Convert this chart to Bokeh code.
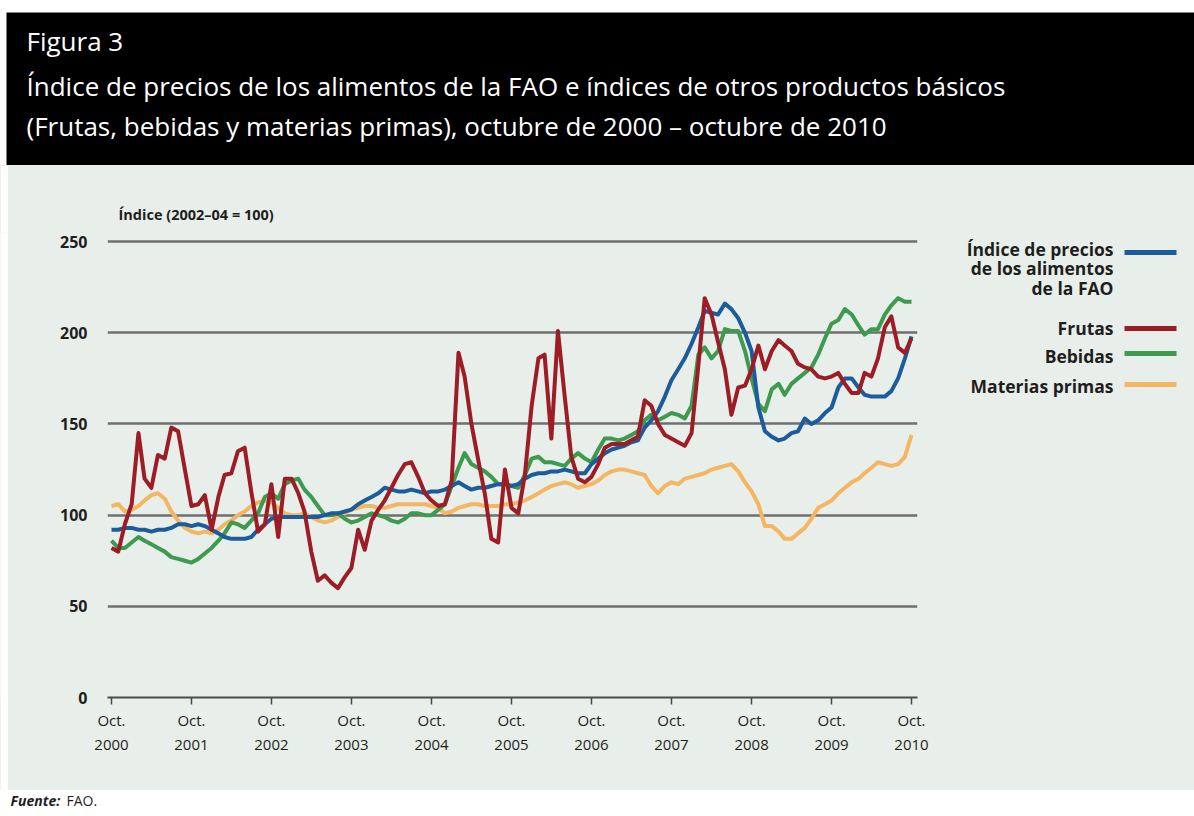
import pandas as pd
from bokeh.plotting import figure
from bokeh.models import Range1d, FixedTicker, DatetimeTickFormatter, Label, BoxAnnotation
from bokeh.layouts import column, row
from bokeh.embed import file_html
from bokeh.resources import INLINE

# ---------------- data ----------------
months = pd.date_range("2000-10-01", "2010-10-01", freq="MS")
tick_dates = pd.date_range("2000-10-01", "2010-10-01", freq="12MS")
y_ticks = [0, 50, 100, 150, 200, 250]

fao_food = [92, 92, 93, 93, 92, 92, 91, 92, 92, 93,
            95, 95, 94, 95, 94, 92, 90, 88, 87, 87,
            87, 88, 92, 95, 98, 99, 99, 99, 99, 99,
            99, 99, 100, 101, 101, 102, 103, 106, 108, 110,
            112, 115, 114, 113, 113, 114, 113, 112, 113, 113,
            114, 116, 118, 116, 114, 115, 115, 116, 117, 117,
            116, 117, 120, 122, 123, 123, 124, 124, 125, 124,
            123, 123, 128, 131, 134, 136, 137, 138, 140, 141,
            148, 152, 157, 165, 174, 180, 186, 194, 203, 212,
            211, 210, 216, 213, 208, 200, 190, 159, 146, 143,
            141, 142, 145, 146, 153, 150, 152, 156, 159, 170,
            175, 175, 170, 166, 165, 165, 165, 168, 175, 186, 198]

frutas = [82, 80, 95, 106, 145, 120, 115, 133, 131, 148,
          146, 125, 105, 106, 111, 92, 110, 122, 123, 135,
          137, 113, 91, 95, 117, 88, 120, 120, 112, 102,
          80, 64, 67, 63, 60, 66, 71, 92, 81, 97,
          103, 108, 115, 122, 128, 129, 121, 112, 108, 105,
          106, 119, 189, 176, 150, 131, 112, 87, 85, 125,
          104, 101, 122, 160, 186, 188, 142, 201, 165, 132,
          120, 118, 121, 128, 137, 139, 139, 139, 141, 143,
          163, 160, 150, 144, 142, 140, 138, 145, 182, 219,
          210, 195, 180, 155, 170, 171, 180, 193, 180, 190,
          196, 193, 190, 183, 181, 180, 176, 175, 176, 178,
          172, 167, 167, 178, 176, 186, 203, 209, 192, 189, 197]

bebidas = [86, 82, 82, 85, 88, 86, 84, 82, 80, 77,
           76, 75, 74, 76, 79, 82, 86, 90, 96, 95,
           93, 97, 101, 110, 112, 109, 117, 119, 120, 114,
           110, 105, 100, 100, 101, 98, 96, 97, 99, 101,
           100, 99, 97, 96, 98, 101, 101, 100, 100, 103,
           106, 116, 126, 134, 128, 126, 124, 121, 117, 117,
           116, 115, 122, 131, 132, 129, 129, 128, 127, 131,
           134, 131, 129, 136, 142, 142, 141, 142, 144, 146,
           152, 155, 152, 154, 156, 155, 153, 160, 188, 192,
           186, 190, 202, 201, 201, 190, 175, 161, 157, 169,
           172, 166, 172, 175, 178, 181, 188, 197, 205, 207,
           213, 210, 204, 199, 202, 202, 210, 215, 219, 217, 217]

materias = [105, 106, 102, 103, 105, 108, 111, 112, 109, 102,
            97, 93, 91, 90, 91, 90, 92, 95, 97, 100,
            102, 105, 107, 108, 107, 104, 101, 100, 100, 101,
            99, 97, 96, 97, 99, 101, 103, 104, 105, 105,
            104, 104, 105, 106, 106, 106, 106, 106, 105, 104,
            101, 102, 104, 105, 106, 106, 105, 105, 105, 106,
            106, 107, 108, 110, 112, 114, 116, 117, 118, 117,
            115, 116, 117, 119, 122, 124, 125, 125, 124, 123,
            122, 116, 112, 116, 118, 117, 120, 121, 122, 123,
            125, 126, 127, 128, 124, 118, 113, 106, 94, 94,
            91, 87, 87, 90, 93, 98, 104, 106, 108, 112,
            115, 118, 120, 123, 126, 129, 128, 127, 128, 132, 144]

for s in (fao_food, frutas, bebidas, materias):
    assert len(s) == len(months)

series_names = ["Índice de precios\nde los alimentos\nde la FAO", "Frutas", "Bebidas", "Materias primas"]
series_values = [fao_food, frutas, bebidas, materias]
series_colors = ["#1d5c9a", "#9c1d26", "#3d9a4f", "#f5b663"]

# ---------------- styles ----------------
PANEL = "#e8eee9"
FONT = "Open Sans"
TXT = "#1e1e1e"

# ---------------- title block ----------------
t = figure(width=1194, height=165, x_range=Range1d(0, 1194), y_range=Range1d(165, 0),
           x_axis_location=None, y_axis_location=None, toolbar_location=None,
           output_backend="svg", min_border=0,
           background_fill_color="white", border_fill_color="white", outline_line_color=None)
t.grid.visible = False
t.add_layout(BoxAnnotation(left=6, right=1194, top=12, bottom=165, fill_color="black",
                           fill_alpha=1, line_color=None))
for txt, yy in [("Figura 3", 40),
                ("Índice de precios de los alimentos de la FAO e índices de otros productos básicos", 85),
                ("(Frutas, bebidas y materias primas), octubre de 2000 – octubre de 2010", 125)]:
    t.add_layout(Label(x=26, y=yy, text=txt, text_color="white", text_font_size="26px",
                       text_font=FONT, text_baseline="middle", text_align="left"))

# ---------------- white strip left of the panel ----------------
sp = figure(width=8, height=625, x_range=Range1d(0, 1), y_range=Range1d(0, 1),
            x_axis_location=None, y_axis_location=None, toolbar_location=None,
            output_backend="svg", min_border=0, min_border_top=67, min_border_bottom=93,
            background_fill_color="white", border_fill_color="white", outline_line_color=None)
sp.grid.visible = False

# ---------------- main chart ----------------
t0 = tick_dates[0].value / 1e6
t1 = tick_dates[-1].value / 1e6
span = t1 - t0
p = figure(width=922, height=625, x_axis_type="datetime",
           x_range=Range1d(t0 - 4 / 800 * span, t1 + 6 / 800 * span),
           y_range=Range1d(0, 255),
           toolbar_location=None, output_backend="svg",
           min_border_left=99, min_border_right=13, min_border_top=67, min_border_bottom=93,
           background_fill_color=PANEL, border_fill_color=PANEL, outline_line_color=None)

p.title.text = "Índice (2002–04 = 100)"
p.title.text_font = FONT
p.title.text_font_size = "14.5px"
p.title.text_font_style = "bold"
p.title.text_color = TXT
p.title.align = "left"
p.title.offset = 11
p.title.standoff = 17

p.xgrid.visible = False
p.ygrid.ticker = FixedTicker(ticks=y_ticks[1:])
p.ygrid.grid_line_color = "#6f6f6f"
p.ygrid.grid_line_width = 2.5

p.yaxis.ticker = FixedTicker(ticks=y_ticks)
p.yaxis.axis_line_color = None
p.yaxis.major_tick_line_color = None
p.yaxis.minor_tick_line_color = None
p.yaxis.major_label_standoff = 14
p.yaxis.major_label_text_font = FONT
p.yaxis.major_label_text_font_size = "16px"
p.yaxis.major_label_text_font_style = "bold"
p.yaxis.major_label_text_color = TXT

p.xaxis.ticker = FixedTicker(ticks=[d.value / 1e6 for d in tick_dates])
p.xaxis.formatter = DatetimeTickFormatter(days="%b.\n%Y", months="%b.\n%Y", years="%b.\n%Y")
p.xaxis.axis_line_color = "#4a4a4a"
p.xaxis.axis_line_width = 2
p.xaxis.major_tick_line_color = "#4a4a4a"
p.xaxis.major_tick_line_width = 1.5
p.xaxis.major_tick_in = 0
p.xaxis.major_tick_out = 7
p.xaxis.minor_tick_line_color = None
p.xaxis.major_label_standoff = 5
p.xaxis.major_label_text_font = FONT
p.xaxis.major_label_text_font_size = "15px"
p.xaxis.major_label_text_color = TXT

for idx in [3, 2, 0, 1]:
    p.line(months, series_values[idx], line_color=series_colors[idx], line_width=4,
           line_join="round")

# ---------------- legend panel (same frame rows as the chart, page coordinates) ----------------
lg = figure(width=264, height=625, x_range=Range1d(930, 1194), y_range=Range1d(697, 232),
            x_axis_location=None, y_axis_location=None, toolbar_location=None,
            output_backend="svg", min_border=0, min_border_top=67, min_border_bottom=93,
            background_fill_color=PANEL, border_fill_color=PANEL, outline_line_color=None)
lg.grid.visible = False
legend_text_y = [248, 327, 355, 385]
legend_line_y = [252, 328, 353, 384]
for name, col, ty, ly in zip(series_names, series_colors, legend_text_y, legend_line_y):
    for k, ln in enumerate(name.split("\n")):
        lg.add_layout(Label(x=1113, y=ty + 19.5 * k, text=ln, text_align="right",
                            text_baseline="middle", text_font=FONT, text_font_size="17.5px",
                            text_font_style="bold", text_color=TXT))
    lg.segment(x0=[1124], y0=[ly], x1=[1176], y1=[ly], line_color=col, line_width=5)

# ---------------- footer ----------------
f = figure(width=1194, height=24, x_range=Range1d(0, 1194), y_range=Range1d(24, 0),
           x_axis_location=None, y_axis_location=None, toolbar_location=None,
           output_backend="svg", min_border=0,
           background_fill_color="white", border_fill_color="white", outline_line_color=None)
f.grid.visible = False
f.add_layout(Label(x=10, y=10, text="Fuente:", text_font=FONT, text_font_size="14px",
                   text_font_style="bold italic", text_baseline="middle", text_color=TXT))
f.add_layout(Label(x=66, y=10, text="FAO.", text_font=FONT, text_font_size="14px",
                   text_baseline="middle", text_color=TXT))

chart_row = row(sp, p, lg, spacing=0, styles={"background-color": PANEL})
layout = column(t, chart_row, f, spacing=0)
open("out.html", "w").write(file_html(layout, INLINE))
